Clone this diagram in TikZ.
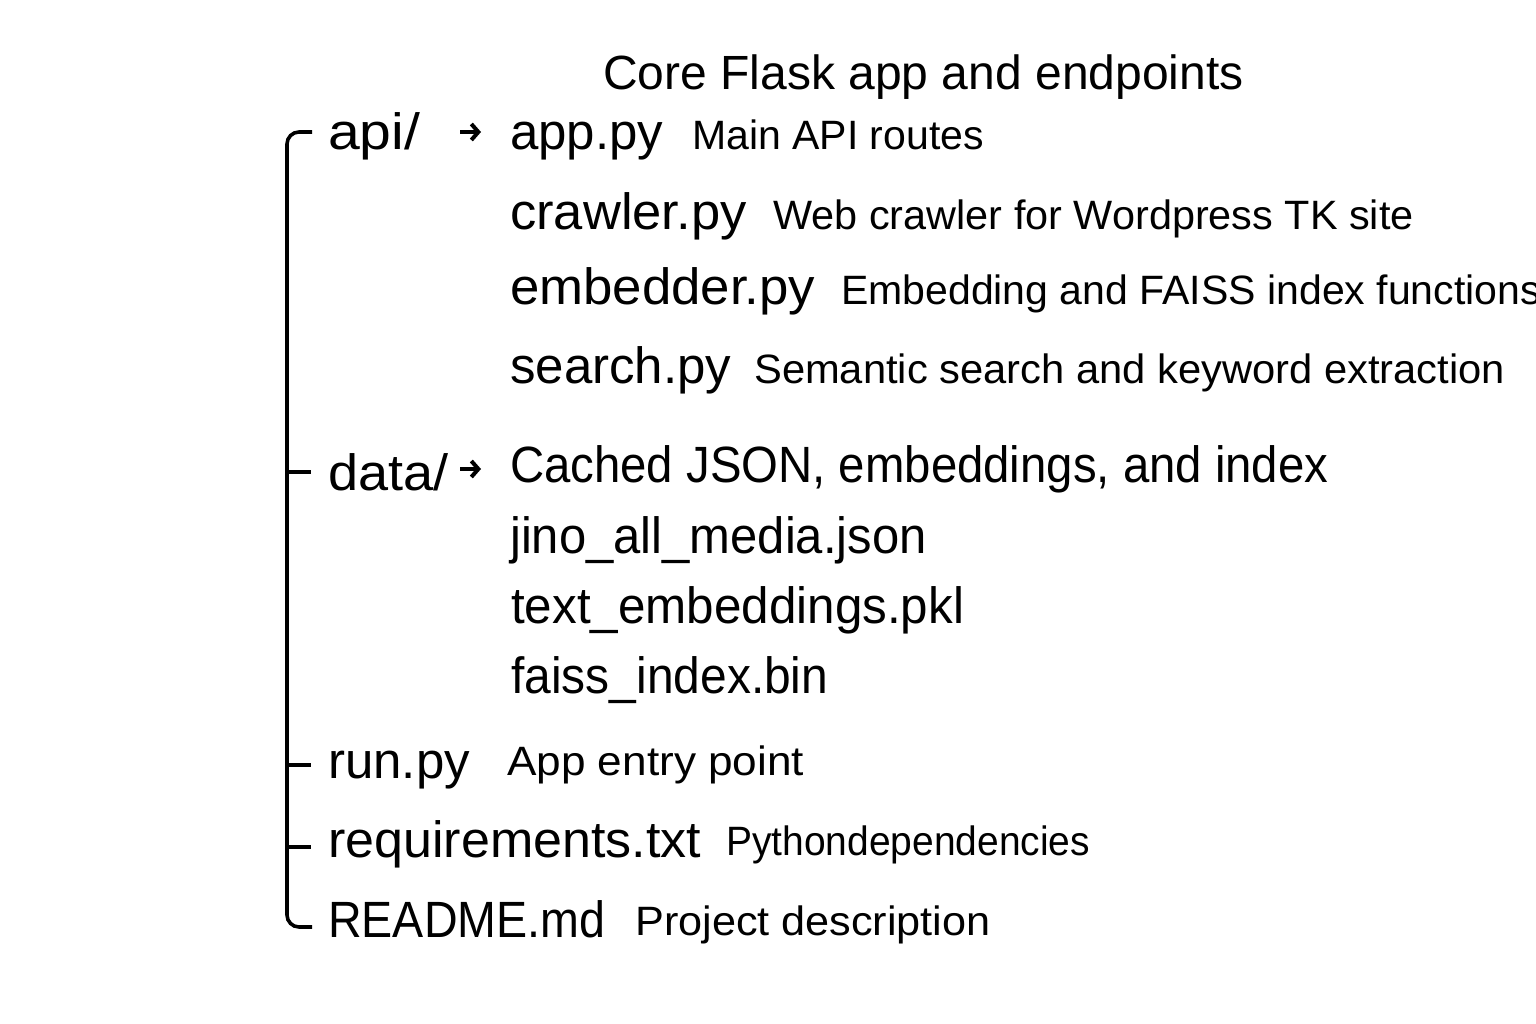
\documentclass[tikz,border=0pt]{standalone}
\usepackage{fontspec}
\setmainfont{Liberation Sans}
\usetikzlibrary{arrows.meta}
\newcommand{\sqz}[2]{\scalebox{#1}[1]{#2}}
\begin{document}
\begin{tikzpicture}[x=1pt,y=-1pt,
  title/.style={anchor=base west,inner sep=0pt,font=\fontsize{48}{56}\selectfont},
  fname/.style={anchor=base west,inner sep=0pt,font=\fontsize{51}{60}\selectfont},
  desc/.style={anchor=base west,inner sep=0pt,font=\fontsize{41}{48}\selectfont},
  tree/.style={line width=3.6pt,black},
  arr/.style={line width=4pt,-{Straight Barb[length=7pt,width=16pt,line width=4pt]}}]
\fill[white] (0,0) rectangle (1536,1024);
\useasboundingbox (0,0) rectangle (1536,1024);
% title
\node[title] (t) at (603,90) {Core Flask app and endpoints};
% api
\node[fname] (api) at (328,150) {\sqz{1.12}{api/}};
\node[fname] (app) at (510,150) {app.py};
\node[desc] (appd) at (692,150) {Main API routes};
\node[fname] (crw) at (510,230) {\sqz{1.03}{crawler.py}};
\node[desc] (crwd) at (773,230) {\sqz{1.01}{Web crawler for Wordpress TK site}};
\node[fname] (emb) at (510,305) {\sqz{1.035}{embedder.py}};
\node[desc] (embd) at (841,305) {Embedding and FAISS index functions};
\node[fname] (srch) at (510,383) {search.py};
\node[desc] (srchd) at (754,383) {\sqz{1.017}{Semantic search and keyword extraction}};
% data
\node[fname] (data) at (328,490) {\sqz{1.06}{data/}};
\node[fname] (cache) at (510,482) {\sqz{0.928}{Cached JSON, embeddings, and index}};
\node[fname] (jino) at (510,553) {\sqz{0.96}{jino\_all\_media.json}};
\node[fname] (txt) at (511,623) {\sqz{0.968}{text\_embeddings.pkl}};
\node[fname] (faiss) at (511,693) {\sqz{0.94}{faiss\_index.bin}};
% files
\node[fname] (run) at (328,778) {run.py};
\node[desc] (rund) at (507,775) {\sqz{1.077}{App entry point}};
\node[fname] (req) at (328,857) {\sqz{1.02}{requirements.txt}};
\node[desc] (reqd) at (726,855) {\sqz{0.95}{Pythondependencies}};
\node[fname] (rdm) at (328,937) {\sqz{0.914}{README.md}};
\node[desc] (rdmd) at (635,935) {\sqz{1.054}{Project description}};
% arrows
\coordinate (a1s) at (460,132);
\coordinate (a1e) at (481,132);
\coordinate (a2s) at (460,469);
\coordinate (a2e) at (481,469);
\draw[arr] (a1s) -- (a1e);
\draw[arr] (a2s) -- (a2e);
% tree
\coordinate (ttop) at (312,132);
\coordinate (tbot) at (312,927);
\draw[tree,rounded corners=12pt] (ttop) -- (287,132) -- (287,927) -- (tbot);
\coordinate (bdata) at (311,472);
\coordinate (brun) at (311,765);
\coordinate (breq) at (311,847);
\draw[tree] (287,472) -- (bdata);
\draw[tree] (287,765) -- (brun);
\draw[tree] (287,847) -- (breq);
\end{tikzpicture}
\end{document}
